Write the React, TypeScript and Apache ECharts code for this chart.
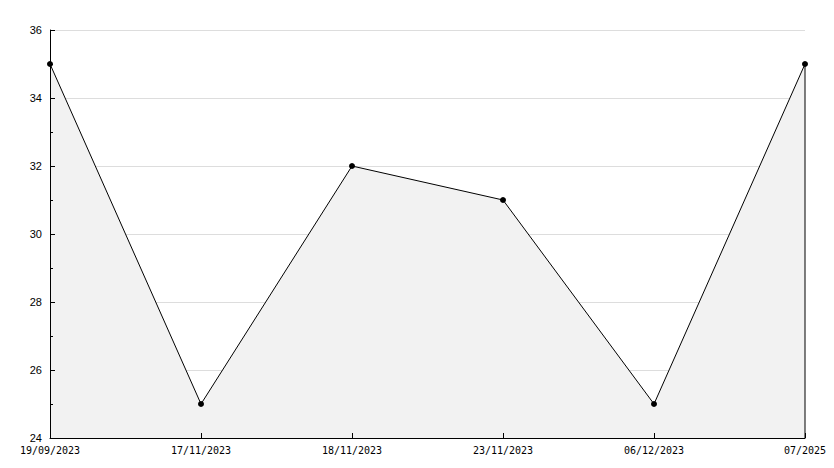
import React, { useEffect, useRef } from "react";
import * as echarts from "echarts";

const categories = ["19/09/2023", "17/11/2023", "18/11/2023", "23/11/2023", "06/12/2023", "07/2025"];
const values = [35, 25, 32, 31, 25, 35];
const yMin = 24;
const yMax = 36;
const yInterval = 2;
const gridValues = [26, 28, 30, 32, 34, 36];

export default function App() {
  const ref = useRef<HTMLDivElement>(null);
  useEffect(() => {
    if (!ref.current) return;
    const chart = echarts.init(ref.current, null, { renderer: "svg" });
    const lastIdx = categories.length - 1;
    chart.setOption({
      animation: false,
      backgroundColor: "#ffffff",
      grid: { left: 50, right: 29, top: 30, bottom: 30, containLabel: false },
      xAxis: {
        type: "category",
        data: categories,
        boundaryGap: false,
        z: 20,
        axisLine: { show: true, lineStyle: { color: "#000", width: 1 } },
        axisTick: { show: true, inside: true, length: 5, lineStyle: { color: "#000" } },
        axisLabel: { color: "#000", fontFamily: "DejaVu Sans Mono", fontSize: 10, margin: 7, showMinLabel: true, showMaxLabel: true, interval: 0 },
        splitLine: { show: false },
      },
      yAxis: {
        type: "value",
        min: yMin,
        max: yMax,
        interval: yInterval,
        z: 20,
        axisLine: { show: true, lineStyle: { color: "#000", width: 1 } },
        axisTick: { show: true, inside: true, length: 5, lineStyle: { color: "#000" } },
        minorTick: { show: true, splitNumber: 2, length: 3, lineStyle: { color: "#000" } },
        axisLabel: { color: "#000", fontFamily: "Liberation Sans", fontSize: 11, margin: 8 },
        splitLine: { show: false },
      },
      series: [
        {
          type: "line",
          data: [],
          z: 1,
          silent: true,
          markLine: {
            silent: true,
            symbol: "none",
            label: { show: false },
            lineStyle: { color: "#dddddd", width: 1, type: "solid" },
            data: gridValues.map((v) => ({ yAxis: v })),
          },
        },
        {
          type: "line",
          data: values,
          symbol: "circle",
          symbolSize: 6,
          showSymbol: true,
          lineStyle: { color: "#000", width: 1 },
          itemStyle: { color: "#000" },
          areaStyle: { color: "#f2f2f2", opacity: 1 },
          z: 10,
        },
        {
          type: "line",
          data: [[lastIdx, yMin], [lastIdx, values[lastIdx]]],
          symbol: "none",
          lineStyle: { color: "#000", width: 1 },
          z: 11,
        },
      ],
    });
    return () => chart.dispose();
  }, []);
  return <div ref={ref} style={{ width: 834, height: 468, position: "absolute", left: 0, top: 0 }} />;
}
